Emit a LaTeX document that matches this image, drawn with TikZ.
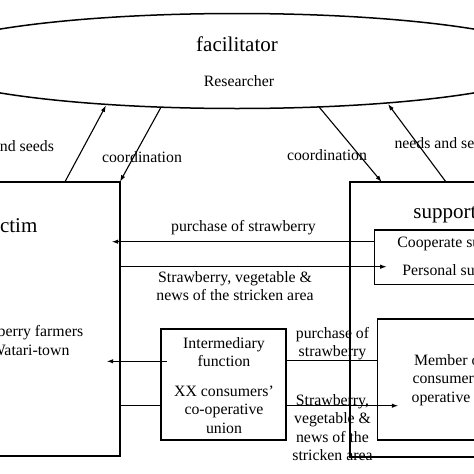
\documentclass[tikz,border=0pt]{standalone}
\usepackage{fontspec}
\setmainfont{Liberation Serif}
\usetikzlibrary{shapes.geometric,arrows.meta}

\begin{document}
\begin{tikzpicture}[x=1pt,y=-1pt,
	box/.style={draw=black, line width=1.5pt, inner sep=0pt},
	txt/.style={font=\fontsize{15.8}{18.6}\selectfont, align=center, inner sep=0pt},
	big/.style={font=\fontsize{21}{24}\selectfont, inner sep=0pt},
	flow/.style={-{Latex[length=6.5pt,width=4.5pt]}, line width=1.1pt},
	link/.style={-, line width=1.2pt}]
		\useasboundingbox (0,0) rectangle (474,474);
		\clip (0,0) rectangle (474,474);

		% facilitator
		\node (fac) [ellipse, box, minimum width=640pt, minimum height=95pt] at (237,61) {};
		\node (facT) [big] at (237,44) {facilitator};
		\node (res) [txt] at (239,81) {Researcher};

		% victim
		\node (vic) [box, minimum width=200pt, minimum height=274.3pt] at (20,318.9) {};
		\node (vicT) [big] at (10.5,226) {victim};
		\node (farm) [txt] at (22,340.5) {Strawberry farmers\\in Watari-town};

		% supporter
		\node (sup) [box, minimum width=210pt, minimum height=275pt] at (455,319.5) {};
		\node (supT) [big] at (453,215) {supporter};
		\node (coop) [box, minimum width=166pt, minimum height=54.3pt] at (457.3,257.2) {};
		\node (coopA) [txt] at (455.5,244) {Cooperate support};
		\node (coopB) [txt] at (455.2,271.7) {Personal support};
		\node (mem) [box, minimum width=167.3pt, minimum height=121pt] at (461.3,379.5) {};
		\node (memT) [txt] at (461,380) {Member of the\\consumers' co-\\operative union};

		% intermediary
		\node (inter) [box, minimum width=125pt, minimum height=111pt] at (223.5,384.5) {};
		\node (interA) [txt] at (224,352.2) {Intermediary\\function};
		\node (interB) [txt] at (224,409.7) {XX consumers'\\co-operative\\union};

		% end points
		\coordinate (v1) at (65,181.7);
		\coordinate (f1) at (106,105.5);
		\coordinate (f2) at (161,107.2);
		\coordinate (v2) at (120,181.7);
		\coordinate (f3) at (319,106.9);
		\coordinate (s1) at (381.7,182);
		\coordinate (s2) at (446,182);
		\coordinate (f4) at (388,104);
		\coordinate (c1) at (374.3,241.7);
		\coordinate (v3) at (111.7,241.7);
		\coordinate (v4) at (120,266.7);
		\coordinate (c2) at (386.7,266.7);
		\coordinate (i1) at (166.7,361.3);
		\coordinate (v5) at (106.7,361.3);
		\coordinate (v6) at (120,405.5);
		\coordinate (i2) at (161,405.5);
		\coordinate (i3) at (286,360.5);
		\coordinate (m1) at (377.7,360.5);
		\coordinate (i4) at (286,405.7);
		\coordinate (m2) at (398.3,405.7);

		\draw[flow] (v1) -- (f1);
		\draw[flow] (f2) -- (v2);
		\draw[flow] (f3) -- (s1);
		\draw[flow] (s2) -- (f4);
		\draw[flow] (c1) -- (v3);
		\draw[flow] (v4) -- (c2);
		\draw[flow] (i1) -- (v5);
		\draw[link] (v6) -- (i2);
		\draw[link] (i3) -- (m1);
		\draw[flow] (i4) -- (m2);

		% labels
		\node (l1) [txt] at (3.5,146) {needs and seeds};
		\node (l2) [txt] at (142,156.7) {coordination};
		\node (l3) [txt] at (327,155.3) {coordination};
		\node (l4) [txt] at (445,143.3) {needs and seeds};
		\node (l5) [txt] at (243.5,227.3) {purchase of strawberry};
		\node (l6) [txt] at (235,286.2) {Strawberry, vegetable \&\\news of the stricken area};
		\node (l7) [txt] at (332.5,343.8) {purchase of\\strawberry};
		\node (l8) [txt] at (332.5,427.5) {Strawberry,\\vegetable \&\\news of the\\stricken area};

	\end{tikzpicture}
\end{document}
